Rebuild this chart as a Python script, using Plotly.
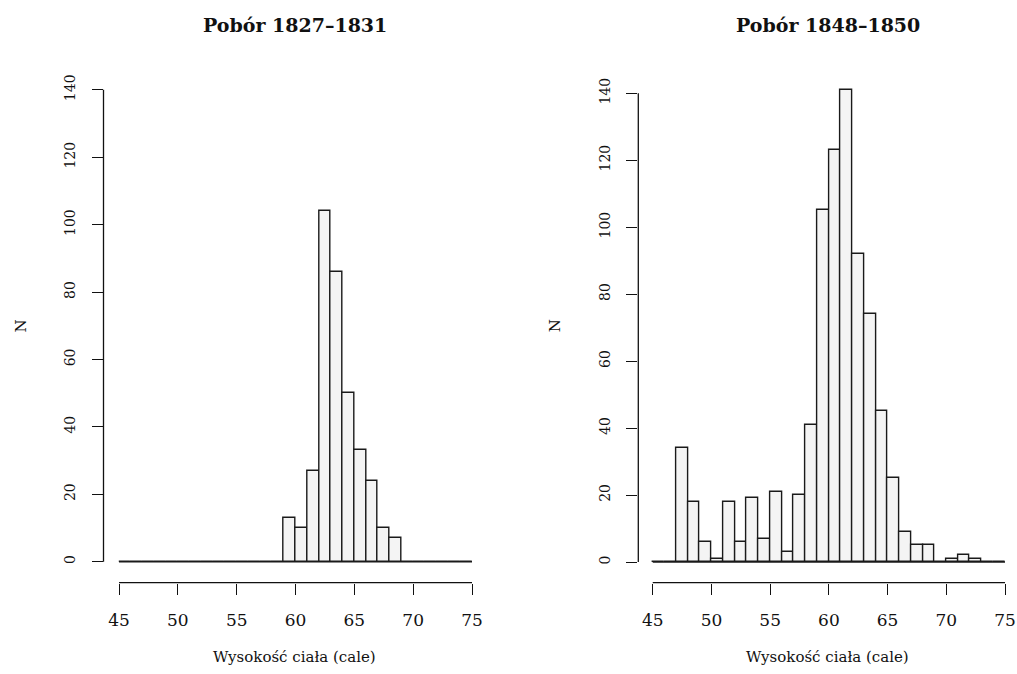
import plotly.graph_objects as go

# ---- data ----
bin_left_edges = [45, 46, 47, 48, 49, 50, 51, 52, 53, 54, 55, 56, 57, 58, 59,
                  60, 61, 62, 63, 64, 65, 66, 67, 68, 69, 70, 71, 72, 73, 74]
bin_width = 1
counts_1827_1831 = [0, 0, 0, 0, 0, 0, 0, 0, 0, 0, 0, 0, 0, 0, 13,
                    10, 27, 104, 86, 50, 33, 24, 10, 7, 0, 0, 0, 0, 0, 0]
counts_1848_1850 = [0, 0, 34, 18, 6, 1, 18, 6, 19, 7, 21, 3, 20, 41, 105,
                    123, 141, 92, 74, 45, 25, 9, 5, 5, 0, 1, 2, 1, 0, 0]
titles = ["Pobór 1827\u20131831", "Pobór 1848\u20131850"]
x_title = "Wysokość ciała (cale)"
y_title = "N"
x_ticks = [45, 50, 55, 60, 65, 70, 75]
y_ticks = [0, 20, 40, 60, 80, 100, 120, 140]

W, H = 1017, 674
FONT = "DejaVu Serif"
INK = "#111111"

# panel pixel geometry: (left, right, top, bottom, x-range, y-range)
panels = [
    dict(px0=103.5, px1=486.0, top=71.0, bottom=582.7, xr=[43.68, 76.19], yr=[-6.23, 145.6]),
    dict(px0=638.3, px1=1017.0, top=71.0, bottom=582.7, xr=[43.77, 76.02], yr=[-6.18, 146.65]),
]
data_sets = [counts_1827_1831, counts_1848_1850]

fig = go.Figure()
centers = [e + bin_width / 2 for e in bin_left_edges]

for i, (p, cnt) in enumerate(zip(panels, data_sets)):
    n = "" if i == 0 else str(i + 1)
    fig.add_trace(go.Bar(
        x=centers, y=cnt, width=bin_width,
        marker=dict(color="#f4f4f4", line=dict(color="#1a1a1a", width=1.4)),
        xaxis="x" + n, yaxis="y" + n, showlegend=False, hoverinfo="x+y",
    ))
    common_tick = dict(ticks="outside", ticklen=11, tickwidth=1.3, tickcolor=INK,
                       showgrid=False, zeroline=False, showline=False,
                       tickfont=dict(family=FONT, size=17, color=INK))
    fig.update_layout(**{
        "xaxis" + n: dict(domain=[p["px0"] / W, p["px1"] / W], range=p["xr"],
                          anchor="y" + n, tickmode="array", tickvals=x_ticks,
                          ticklabelstandoff=11, **common_tick),
        "yaxis" + n: dict(domain=[1 - p["bottom"] / H, 1 - p["top"] / H], range=p["yr"],
                          anchor="x" + n, tickmode="array", tickvals=y_ticks,
                          tickangle=-90, ticklabelstandoff=11,
                          **{**common_tick, "tickfont": dict(family=FONT, size=14, color=INK)}),
    })
    xr, yr = "x" + n, "y" + n
    # R-style axis lines spanning first to last tick
    fig.add_shape(type="line", xref=xr, yref=yr + " domain", x0=x_ticks[0], x1=x_ticks[-1],
                  y0=0, y1=0, line=dict(color=INK, width=1.3))
    fig.add_shape(type="line", xref=xr + " domain", yref=yr, x0=0, x1=0,
                  y0=y_ticks[0], y1=y_ticks[-1], line=dict(color=INK, width=1.3))
    # zero-height bins drawn as baseline
    fig.add_shape(type="line", xref=xr, yref=yr, x0=bin_left_edges[0],
                  x1=bin_left_edges[-1] + bin_width, y0=0, y1=0,
                  line=dict(color="#1a1a1a", width=1.4))
    cx = (p["px0"] + p["px1"]) / 2 / W
    fig.add_annotation(text=titles[i], x=cx, y=1 - 25 / H, xref="paper", yref="paper",
                       showarrow=False, xanchor="center", yanchor="middle",
                       font=dict(family=FONT, size=19, color=INK, weight="bold"))
    fig.add_annotation(text=x_title, x=cx, y=1 - 657 / H, xref="paper", yref="paper",
                       showarrow=False, xanchor="center", yanchor="middle",
                       font=dict(family=FONT, size=15, color=INK))
    fig.add_annotation(text=y_title, x=(p["px0"] - 83) / W, y=1 - 326 / H,
                       xref="paper", yref="paper", textangle=-90,
                       showarrow=False, xanchor="center", yanchor="middle",
                       font=dict(family=FONT, size=15, color=INK))

fig.update_layout(width=W, height=H, margin=dict(l=0, r=0, t=0, b=0),
                  paper_bgcolor="white", plot_bgcolor="white", bargap=0)
fig.write_html("out.html", config={"displayModeBar": False},
               post_script="document.body.style.margin='0';document.body.style.overflow='hidden';")
